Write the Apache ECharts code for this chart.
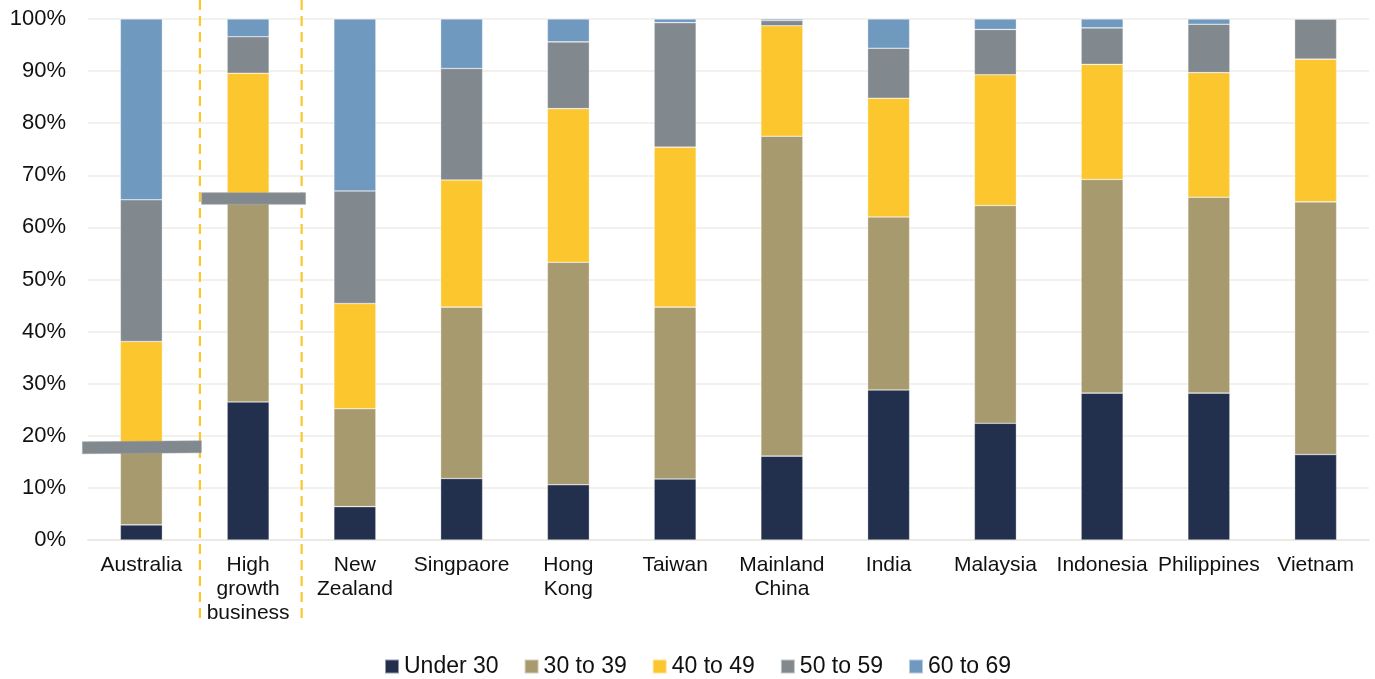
<!DOCTYPE html>
<html>
<head>
<meta charset="utf-8">
<script src="https://cdn.jsdelivr.net/npm/echarts@6/dist/echarts.min.js"></script>
<style>
  html, body { margin: 0; padding: 0; background: #fff; }
  #chart { width: 1375px; height: 679px; }
</style>
</head>
<body>
<div id="chart"></div>
<script>
const categories = ['Australia', 'High\ngrowth\nbusiness', 'New\nZealand', 'Singpaore', 'Hong\nKong', 'Taiwan',
  'Mainland\nChina', 'India', 'Malaysia', 'Indonesia', 'Philippines', 'Vietnam'];

const under30 = [2.9, 26.5, 6.4, 11.8, 10.6, 11.7, 16.1, 28.8, 22.4, 28.2, 28.2, 16.4];
const age30to39 = [15.0, 39.5, 18.8, 32.9, 42.7, 33.0, 61.4, 33.2, 41.8, 41.0, 37.6, 48.5];
const age40to49 = [20.2, 23.6, 20.2, 24.4, 29.5, 30.7, 21.2, 22.8, 25.1, 22.1, 23.9, 27.4];
const age50to59 = [27.2, 7.0, 21.6, 21.4, 12.8, 23.9, 1.0, 9.6, 8.7, 7.0, 9.3, 7.7];
const age60to69 = [34.7, 3.4, 33.0, 9.5, 4.4, 0.7, 0.3, 5.6, 2.0, 1.7, 1.0, 0];

const seriesNames = ['Under 30', '30 to 39', '40 to 49', '50 to 59', '60 to 69'];
const seriesData = [under30, age30to39, age40to49, age50to59, age60to69];
const colors = ['#22304d', '#a89a6f', '#fcc62f', '#81888e', '#7099bf'];

// axis-break markers drawn over the first two bars (value on y axis)
const breakAustralia = 17.8;
const breakHighGrowth = 65.5;

const font = '"Liberation Sans", Arial, sans-serif';
const chart = echarts.init(document.getElementById('chart'));

const option = {
    animation: false,
    textStyle: { fontFamily: font },
    grid: { left: 88, right: 6, top: 19, bottom: 139 },
    legend: {
        left: 379,
        top: 650,
        icon: 'rect',
        itemWidth: 14,
        itemHeight: 14,
        itemGap: 25,
        textStyle: { fontFamily: font, fontSize: 23, color: '#111' },
        data: seriesNames
    },
    xAxis: {
        type: 'category',
        data: categories,
        axisLine: { lineStyle: { color: '#eceae4', width: 2 } },
        axisTick: { show: false },
        axisLabel: {
            interval: 0,
            margin: 13,
            fontFamily: font,
            fontSize: 21,
            lineHeight: 24,
            color: '#111'
        }
    },
    yAxis: {
        type: 'value',
        min: 0,
        max: 100,
        interval: 10,
        axisLine: { show: false },
        axisTick: { show: false },
        splitLine: { lineStyle: { color: '#eeede8', width: 1.5 } },
        axisLabel: {
            formatter: '{value}%',
            margin: 22,
            fontFamily: font,
            fontSize: 22,
            color: '#111'
        }
    },
    series: seriesNames.map((name, i) => ({
        name: name,
        type: 'bar',
        stack: 'total',
        barWidth: 42,
        data: seriesData[i],
        itemStyle: { color: colors[i], borderColor: 'rgba(255,255,255,0.5)', borderWidth: 0.6 }
    }))
};

chart.setOption(option);

// decorations: dashed separators and the two break bars
const c0 = chart.convertToPixel({ xAxisIndex: 0 }, 0);
const c1 = chart.convertToPixel({ xAxisIndex: 0 }, 1);
const yA = chart.convertToPixel({ yAxisIndex: 0 }, breakAustralia);
const yH = chart.convertToPixel({ yAxisIndex: 0 }, breakHighGrowth);

const dash = { stroke: '#fcc62f', lineWidth: 2.2, lineDash: [10, 6] };

chart.setOption({
    graphic: [
        { type: 'line', z: 100, shape: { x1: c0 + 58.5, y1: 0, x2: c0 + 58.5, y2: 621 }, style: dash },
        { type: 'line', z: 100, shape: { x1: c1 + 53.5, y1: 0, x2: c1 + 53.5, y2: 621 }, style: dash },
        {
            type: 'polygon', z: 101,
            shape: { points: [[c0 - 59, yA - 5.5], [c0 + 60, yA - 6.5], [c0 + 60, yA + 5.5], [c0 - 59, yA + 6.5]] },
            style: { fill: '#81888e', stroke: '#9aa0a5', lineWidth: 0.5 }
        },
        {
            type: 'rect', z: 101,
            shape: { x: c1 - 46.5, y: yH - 6, width: 104, height: 11.5 },
            style: { fill: '#81888e', stroke: '#a5aaae', lineWidth: 0.7 }
        }
    ]
});
</script>
</body>
</html>
